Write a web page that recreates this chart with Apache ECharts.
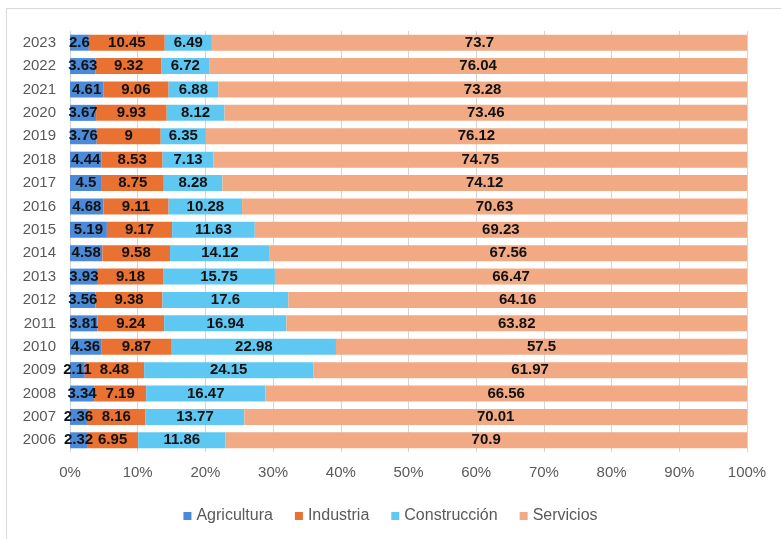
<!DOCTYPE html>
<html>
<head>
<meta charset="utf-8">
<script src="https://cdn.jsdelivr.net/npm/echarts@6/dist/echarts.min.js"></script>
<style>
  html, body { margin: 0; padding: 0; background: #fff; }
  #chart { width: 781px; height: 539px; }
</style>
</head>
<body>
<div id="chart"></div>
<script>
var years = ['2006', '2007', '2008', '2009', '2010', '2011', '2012', '2013', '2014',
  '2015', '2016', '2017', '2018', '2019', '2020', '2021', '2022', '2023'];
var agricultura = [2.32, 2.36, 3.34, 2.11, 4.36, 3.81, 3.56, 3.93, 4.58,
  5.19, 4.68, 4.5, 4.44, 3.76, 3.67, 4.61, 3.63, 2.6];
var industria = [6.95, 8.16, 7.19, 8.48, 9.87, 9.24, 9.38, 9.18, 9.58,
  9.17, 9.11, 8.75, 8.53, 9, 9.93, 9.06, 9.32, 10.45];
var construccion = [11.86, 13.77, 16.47, 24.15, 22.98, 16.94, 17.6, 15.75, 14.12,
  11.63, 10.28, 8.28, 7.13, 6.35, 8.12, 6.88, 6.72, 6.49];
var servicios = [70.9, 70.01, 66.56, 61.97, 57.5, 63.82, 64.16, 66.47, 67.56,
  69.23, 70.63, 74.12, 74.75, 76.12, 73.46, 73.28, 76.04, 73.7];
var xTicks = ['0%', '10%', '20%', '30%', '40%', '50%', '60%', '70%', '80%', '90%', '100%'];

var names = ['Agricultura', 'Industria', 'Construcción', 'Servicios'];
var colors = ['#4a8ad8', '#e97132', '#5ec8f2', '#f2aa84'];
var raw = [agricultura, industria, construccion, servicios];
var font = 'Liberation Sans, Arial, sans-serif';

// 100% stacked: normalise each year, keep raw value for the label
var totals = years.map(function (y, i) {
  return agricultura[i] + industria[i] + construccion[i] + servicios[i];
});

var series = raw.map(function (arr, s) {
  return {
    name: names[s],
    type: 'bar',
    stack: 'total',
    barWidth: 16,
    itemStyle: { color: colors[s] },
    label: {
      show: true,
      position: 'inside',
      color: '#111',
      fontFamily: font,
      fontWeight: 'bold',
      fontSize: 15,
      formatter: function (p) { return arr[p.dataIndex]; }
    },
    data: arr.map(function (v, i) { return v / totals[i] * 100; })
  };
});

var myChart = echarts.init(document.getElementById('chart'));
var option = {
  animation: false,
  graphic: [{
    type: 'rect',
    shape: { x: 6.5, y: 8.5, width: 800, height: 560 },
    style: { fill: 'none', stroke: '#d9d9d9', lineWidth: 1 },
    silent: true
  }],
  grid: { left: 70, right: 34, top: 31, bottom: 87 },
  legend: {
    top: 503,
    left: 'center',
    itemWidth: 8,
    itemHeight: 8,
    itemGap: 22,
    icon: 'rect',
    textStyle: { color: '#595959', fontSize: 16, fontFamily: font },
    data: names
  },
  xAxis: {
    type: 'value',
    min: 0,
    max: 100,
    interval: 10,
    axisLine: { show: false },
    axisTick: { show: false },
    splitLine: { lineStyle: { color: '#d4d4d4' } },
    axisLabel: {
      color: '#595959',
      fontSize: 15,
      margin: 13,
      fontFamily: font,
      formatter: function (v) { return xTicks[Math.round(v / 10)]; }
    }
  },
  yAxis: {
    type: 'category',
    data: years,
    axisLine: { show: false },
    axisTick: { show: false },
    axisLabel: {
      color: '#595959',
      fontSize: 15,
      margin: 14,
      fontFamily: font
    }
  },
  series: series
};
myChart.setOption(option);
</script>
</body>
</html>
